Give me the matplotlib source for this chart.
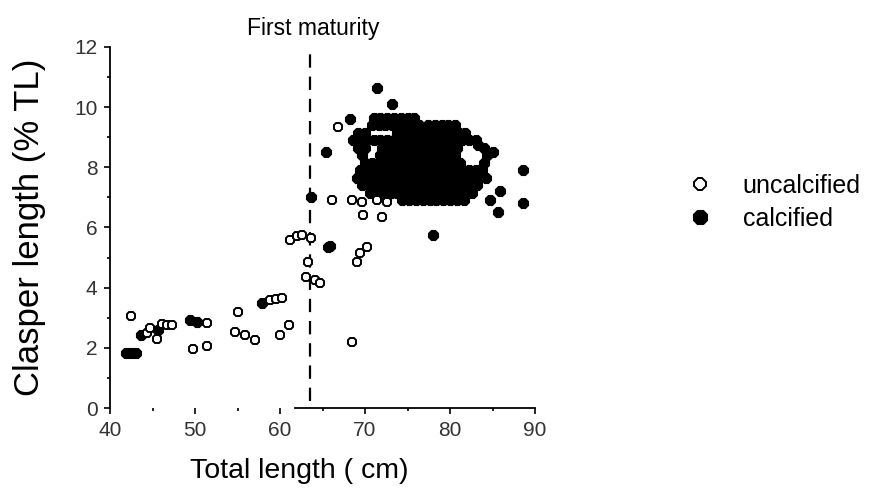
import matplotlib
matplotlib.use("Agg")
import matplotlib.pyplot as plt
from matplotlib.ticker import MultipleLocator

plt.rcParams['font.family'] = ['Liberation Sans', 'DejaVu Sans']

# ---- data ----
FIRST_MATURITY = 63.5

unc_x = [42.5, 44.3, 44.7, 45.5, 46.1, 46.7, 47.3, 49.8, 51.4, 51.4,
         55.1, 54.7, 55.9, 57.1, 58.8, 59.5, 60.2, 60.0, 61.0,
         61.2, 62.0, 62.6, 63.7, 63.3, 63.1, 64.1, 64.7,
         66.1, 66.8, 68.5, 69.6, 69.8, 71.4, 72.0, 72.6,
         68.5, 69.0, 69.4, 70.2]
unc_y = [3.06, 2.5, 2.65, 2.3, 2.8, 2.75, 2.75, 1.95, 2.06, 2.83,
         3.2, 2.52, 2.43, 2.26, 3.59, 3.62, 3.65, 2.43, 2.76,
         5.6, 5.72, 5.75, 5.65, 4.85, 4.35, 4.25, 4.15,
         6.9, 9.35, 6.9, 6.85, 6.4, 6.9, 6.35, 6.85,
         2.2, 4.85, 5.15, 5.35]

# calcified: isolated points
cal_iso_x = [41.9, 42.5, 43.1, 43.7, 45.7, 49.4, 50.2, 57.9, 63.7, 65.4,
             65.6, 65.9, 68.2, 71.4, 73.2, 78.0, 88.6, 88.6, 85.9, 84.7,
             85.6, 85.1, 83.3, 71.5, 72.5]
cal_iso_y = [1.83, 1.83, 1.83, 2.43, 2.6, 2.92, 2.87, 3.49, 7.0, 8.5,
             5.35, 5.4, 9.6, 10.65, 10.1, 5.75, 7.9, 6.8, 7.2, 6.9,
             6.5, 8.5, 8.75, 7.0, 6.95]

# calcified: dense cluster, one list of x positions per row height
row_965 = [71.0, 71.8, 72.6, 73.4, 74.2, 75.0, 75.8]
row_940 = [70.8, 71.6, 72.4, 73.2, 74.0, 74.8, 75.6, 76.4, 77.4, 78.2, 79.0,
           79.8, 80.6]
row_915 = [69.2, 70.0, 73.8, 74.6, 75.4, 76.2, 77.0, 77.8, 78.6, 79.4, 80.2,
           81.0, 81.8]
row_890 = [68.6, 69.4, 70.2, 71.0, 71.8, 72.6, 73.4, 74.2, 75.0, 75.8, 76.6,
           77.4, 78.2, 79.0, 79.8, 80.6, 81.4, 82.2, 83.0]
row_865 = [69.2, 70.0, 72.0, 72.8, 73.6, 74.4, 75.2, 76.0, 76.8, 77.6, 78.4,
           79.2, 80.0, 80.8, 84.0]
row_840 = [69.6, 71.8, 72.6, 73.4, 74.2, 75.0, 75.8, 76.6, 77.4, 78.2, 79.0,
           79.8, 80.6, 84.4]
row_815 = [70.0, 70.8, 71.6, 72.4, 73.2, 74.0, 74.8, 75.6, 76.4, 77.2, 78.0,
           78.8, 79.6, 80.4, 81.2, 84.0]
row_790 = [69.4, 70.2, 71.0, 71.8, 72.6, 73.4, 74.2, 75.0, 75.8, 76.6, 77.4,
           78.2, 79.0, 79.8, 80.6, 81.4, 82.2, 83.0, 83.8]
row_765 = [69.0, 69.8, 70.6, 71.4, 72.2, 73.0, 73.8, 74.6, 75.4, 76.2, 77.0,
           77.8, 78.6, 79.4, 80.2, 81.0, 81.8, 82.6, 83.4, 84.2]
row_740 = [69.6, 70.4, 71.2, 72.0, 72.8, 73.6, 74.4, 75.2, 76.0, 76.8, 77.6,
           78.4, 79.2, 80.0, 80.8, 81.6, 82.4, 83.2]
row_715 = [70.6, 71.4, 72.2, 73.0, 73.8, 74.6, 75.4, 76.2, 77.0, 77.8, 78.6,
           79.4, 80.2, 81.0, 81.8, 82.6]
row_690 = [74.4, 75.2, 76.0, 76.8, 77.6, 78.4, 79.2, 80.0, 80.8, 81.6]
cluster_rows = {9.65: row_965, 9.40: row_940, 9.15: row_915, 8.90: row_890,
                8.65: row_865, 8.40: row_840, 8.15: row_815, 7.90: row_790,
                7.65: row_765, 7.40: row_740, 7.15: row_715, 6.90: row_690}

x_ticks = [40, 50, 60, 70, 80, 90]
y_ticks = [0, 2, 4, 6, 8, 10, 12]

# ---- figure ----
fig = plt.figure(figsize=(8.69, 4.94), dpi=100)
ax = fig.add_axes([0.1266, 0.174, 0.4891, 0.731])

cal_x = list(cal_iso_x)
cal_y = list(cal_iso_y)
for yv, xs in cluster_rows.items():
    cal_x += xs
    cal_y += [yv] * len(xs)

ax.plot(cal_x, cal_y, linestyle='none', marker='8', markersize=8,
        markerfacecolor='black', markeredgecolor='black', markeredgewidth=0.8,
        label='calcified', zorder=2)
ax.plot(unc_x, unc_y, linestyle='none', marker='8', markersize=6.5,
        markerfacecolor='white', markeredgecolor='black', markeredgewidth=1.4,
        label='uncalcified', zorder=3)

ax.axvline(FIRST_MATURITY, ymin=0.02, ymax=0.98, color='black', lw=1.6,
           dashes=(6, 4), zorder=1)
ax.annotate('First maturity', xy=(FIRST_MATURITY + 0.4, 1.05),
            xycoords=('data', 'axes fraction'), ha='center', va='center',
            fontsize=16.5)

ax.set_xlim(40, 90)
ax.set_ylim(0, 12)
ax.set_xticks(x_ticks)
ax.set_yticks(y_ticks)
ax.xaxis.set_minor_locator(MultipleLocator(5))
ax.yaxis.set_minor_locator(MultipleLocator(1))
ax.tick_params(which='major', length=4, width=1.2, colors='black',
               labelsize=15, labelcolor='#333333')
ax.tick_params(axis='x', which='major', pad=5)
ax.tick_params(axis='y', which='major', pad=5)
ax.tick_params(which='minor', length=2, width=1.2)
for s in ['top', 'right']:
    ax.spines[s].set_visible(False)
ax.spines['left'].set_linewidth(1.3)
ax.spines['bottom'].set_linewidth(1.3)
ax.spines['bottom'].set_bounds(61.8, 90)

fig.text(0.034, 0.540, 'Clasper length (% TL)', rotation=90,
         ha='center', va='center', fontsize=25)
fig.text(0.344, 0.047, 'Total length ( cm)', ha='center', va='center',
         fontsize=20.5)

h, l = ax.get_legend_handles_labels()
leg = fig.legend([h[1], h[0]], [l[1], l[0]], loc='upper left',
                 bbox_to_anchor=(0.78, 0.673), frameon=False, fontsize=18,
                 handlelength=0.8, handletextpad=1.3, labelspacing=0.36,
                 markerscale=1.4, borderpad=0)

fig.savefig('out.png', dpi=100)
